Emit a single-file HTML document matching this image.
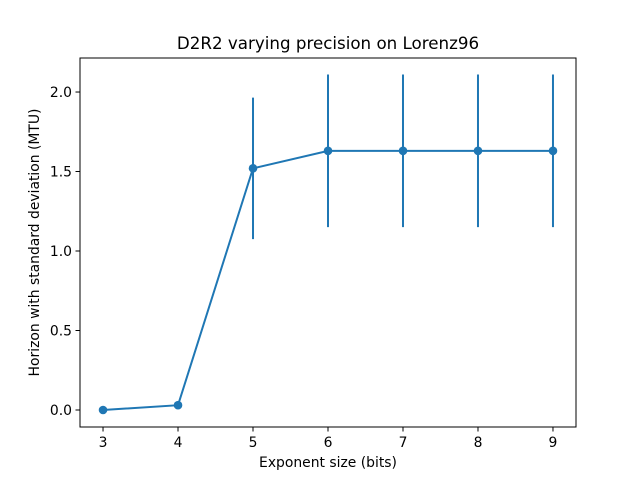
<!DOCTYPE html>
<html><head><meta charset="utf-8"><style>
body{margin:0;background:#fff;}
svg{display:block;font-family:"DejaVu Sans","Liberation Sans",sans-serif;}
</style></head><body>
<svg id="chart" width="640" height="480"></svg>
<script>
const categories=[3,4,5,6,7,8,9];
const horizonValues=[0,0.03,1.52,1.63,1.63,1.63,1.63];
const stdValues=[0,0,0.445,0.48,0.48,0.48,0.48];
const xTicks=[3,4,5,6,7,8,9];
const yTicks=[0.0,0.5,1.0,1.5,2.0];
const yTickLabels=["0.0","0.5","1.0","1.5","2.0"];

const L=80,R=576,T=58,B=427;
const xMin=2.693,xMax=9.307,yMin=-0.107,yMax=2.214;
const xs=v=>L+(v-xMin)/(xMax-xMin)*(R-L);
const ys=v=>B-(v-yMin)/(yMax-yMin)*(B-T);
const svg=document.getElementById('chart');
const NS="http://www.w3.org/2000/svg";
function mk(tag,attrs,parent){const e=document.createElementNS(NS,tag);for(const k in attrs)e.setAttribute(k,attrs[k]);(parent||svg).appendChild(e);return e;}
const c='#1f77b4';

categories.forEach((x,i)=>{
  const l=mk('line',{x1:xs(x),x2:xs(x),y1:ys(horizonValues[i]-stdValues[i]),y2:ys(horizonValues[i]+stdValues[i]),stroke:c,'stroke-width':2});
  
  
});
const pts=categories.map((x,i)=>xs(x)+','+ys(horizonValues[i])).join(' ');
const pl=mk('polyline',{points:pts,fill:'none',stroke:c,'stroke-width':2});


categories.forEach((x,i)=>{
  const p=mk('circle',{cx:xs(x),cy:ys(horizonValues[i]),r:4.3,fill:c});
  
  
});
const fr=mk('rect',{x:L,y:T,width:R-L,height:B-T,fill:'none',stroke:'#000','stroke-width':1});


xTicks.forEach(v=>{
  mk('line',{x1:xs(v),x2:xs(v),y1:B,y2:B+4.5,stroke:'#000','stroke-width':1});
  const t=mk('text',{x:xs(v),y:B+20,'text-anchor':'middle','font-size':13.9});
  t.textContent=v;
  
  
});
yTicks.forEach((v,i)=>{
  mk('line',{x1:L-4.5,x2:L,y1:ys(v),y2:ys(v),stroke:'#000','stroke-width':1});
  const t=mk('text',{x:L-8,y:ys(v)+5,'text-anchor':'end','font-size':13.9});
  t.textContent=yTickLabels[i];
  
  
});
const xt=mk('text',{x:(L+R)/2,y:467,'text-anchor':'middle','font-size':13.9});
xt.textContent='Exponent size (bits)';


const yt=mk('text',{x:0,y:0,'text-anchor':'middle','font-size':13.9,transform:`translate(39,${(T+B)/2}) rotate(-90)`});
yt.textContent='Horizon with standard deviation (MTU)';


const tt=mk('text',{x:(L+R)/2,y:49,'text-anchor':'middle','font-size':16.7});
tt.textContent='D2R2 varying precision on Lorenz96';


</script>
</body></html>
